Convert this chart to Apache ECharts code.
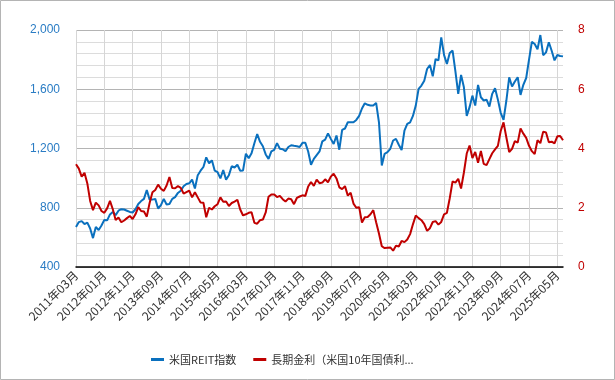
<!DOCTYPE html>
<html>
<head>
<meta charset="utf-8">
<script src="https://cdn.jsdelivr.net/npm/echarts@6.0.0/dist/echarts.min.js"></script>
<style>
html,body{margin:0;padding:0;background:#fff;}
#chart{width:615px;height:380px;}
</style>
</head>
<body>
<div id="chart"></div>
<script>
// Category range: 2011年03月 .. 2025年07月 (monthly)
const startYear = 2011, startMonth = 3, monthCount = 173;
const categories = [];
for (let i = 0; i < monthCount; i++) {
  const m = startMonth - 1 + i;
  const y = startYear + Math.floor(m / 12);
  const mm = (m % 12) + 1;
  categories.push(y + '年' + (mm < 10 ? '0' + mm : '' + mm) + '月');
}

const seriesNames = ['米国REIT指数', '長期金利（米国10年国債利回り）'];

const reitIndex = [
  670,703,710,690,700,660,595,670,650,680,
  718,715,755,772,750,780,790,788,780,772,
  768,790,825,845,860,920,855,855,860,795,
  818,860,822,825,860,872,900,915,945,960,
  965,990,930,1020,1050,1075,1140,1100,1120,1050,
  1040,998,1055,990,1020,1080,1072,1090,1050,1052,
  1165,1135,1168,1235,1298,1245,1215,1160,1130,1180,
  1190,1236,1198,1195,1182,1210,1222,1218,1215,1210,
  1238,1238,1180,1090,1130,1155,1180,1248,1260,1302,
  1265,1230,1288,1192,1326,1335,1377,1377,1377,1393,
  1420,1470,1505,1495,1490,1490,1508,1377,1085,1164,
  1175,1198,1254,1265,1225,1190,1320,1366,1377,1420,
  1490,1602,1625,1658,1737,1764,1687,1804,1795,1950,
  1830,1771,1845,1861,1720,1569,1697,1613,1420,1479,
  1557,1490,1629,1546,1524,1530,1483,1569,1607,1530,
  1441,1393,1524,1681,1618,1652,1681,1562,1630,1676,
  1800,1920,1905,1870,1966,1830,1849,1917,1860,1795,
  1831,1825,1822
];

const yield10y = [
  3.47,3.32,3.05,3.18,2.82,2.23,1.92,2.17,2.08,1.89,
  1.83,1.98,2.23,1.95,1.59,1.67,1.51,1.57,1.65,1.72,1.62,1.78,
  2.02,1.89,1.87,1.70,2.16,2.52,2.60,2.78,2.64,2.57,2.75,3.04,
  2.67,2.66,2.73,2.67,2.48,2.53,2.58,2.35,2.52,2.35,2.18,2.17,
  1.68,2.00,1.94,2.05,2.12,2.35,2.20,2.21,2.06,2.16,2.21,2.27,
  1.94,1.74,1.78,1.83,1.85,1.49,1.46,1.58,1.60,1.84,2.37,2.45,
  2.45,2.36,2.40,2.29,2.21,2.31,2.29,2.12,2.33,2.38,2.42,2.40,
  2.72,2.87,2.74,2.95,2.83,2.85,2.96,2.86,3.05,3.15,2.99,2.69,
  2.63,2.73,2.41,2.51,2.14,2.00,2.02,1.50,1.68,1.69,1.78,1.92,
  1.51,1.13,0.70,0.64,0.65,0.66,0.55,0.72,0.69,0.88,0.84,0.93,
  1.11,1.44,1.74,1.65,1.58,1.45,1.22,1.31,1.52,1.55,1.43,1.52,
  1.78,1.83,2.32,2.89,2.85,2.98,2.65,3.19,3.83,4.10,3.68,3.88,
  3.52,3.92,3.48,3.44,3.64,3.84,3.97,4.09,4.59,4.88,4.37,3.88,
  3.99,4.25,4.20,4.68,4.50,4.36,4.09,3.91,3.81,4.28,4.18,4.57,
  4.54,4.21,4.23,4.17,4.41,4.42,4.28
];

const leftTicks = {min: 400, max: 2000, interval: 400};
const rightTicks = {min: 0, max: 8, interval: 2};

const blue = '#0a70be';
const red = '#c00000';
const font = "'Liberation Sans', 'Noto Sans CJK JP', sans-serif";
const cjkFont = "'Noto Sans CJK JP', sans-serif";

const chart = echarts.init(document.getElementById('chart'));
chart.setOption({
  animation: false,
  textStyle: {fontFamily: font},
  graphic: [{
    type: 'rect', left: 0, top: 0, z: -10,
    shape: {x: 0.5, y: 0.5, width: 614, height: 379},
    style: {fill: '#fff', stroke: '#b4b4b4', lineWidth: 1}
  }],
  grid: {left: 76, right: 52, top: 30, bottom: 113},
  legend: {
    left: 146, top: 349,
    icon: 'rect', itemWidth: 13, itemHeight: 3, itemGap: 17,
    textStyle: {fontSize: 11, color: '#333', fontFamily: cjkFont},
    data: [
      {name: seriesNames[0]},
      {name: seriesNames[1], textStyle: {width: 152, overflow: 'truncate', ellipsis: '...'}}
    ]
  },
  xAxis: {
    type: 'category',
    boundaryGap: false,
    data: categories,
    axisLine: {lineStyle: {color: '#000', width: 1.5}},
    axisTick: {show: false},
    axisLabel: {interval: 9, rotate: 45, fontSize: 12, color: '#333', margin: 6, fontFamily: cjkFont},
    splitLine: {show: true, interval: 9, lineStyle: {color: '#d6d6d6', width: 1}}
  },
  yAxis: [{
    type: 'value',
    position: 'left',
    min: leftTicks.min, max: leftTicks.max, interval: leftTicks.interval,
    axisLine: {show: false},
    axisTick: {show: false},
    axisLabel: {color: '#2a7cc4', fontSize: 12, margin: 16,
      formatter: v => v.toLocaleString('en-US')},
    splitLine: {lineStyle: {color: '#b4b4b4', width: 1}},
    minorTick: {show: false, splitNumber: 5},
    minorSplitLine: {show: true, lineStyle: {color: '#dcdcdc', width: 1}}
  }, {
    type: 'value',
    position: 'right',
    min: rightTicks.min, max: rightTicks.max, interval: rightTicks.interval,
    axisLine: {show: false},
    axisTick: {show: false},
    axisLabel: {color: red, fontSize: 12, margin: 15},
    splitLine: {show: false}
  }],
  series: [{
    name: seriesNames[0],
    type: 'line',
    yAxisIndex: 0,
    data: reitIndex,
    showSymbol: false,
    symbol: 'none',
    itemStyle: {color: blue},
    lineStyle: {color: blue, width: 2}
  }, {
    name: seriesNames[1],
    type: 'line',
    yAxisIndex: 1,
    data: yield10y,
    showSymbol: false,
    symbol: 'none',
    itemStyle: {color: red},
    lineStyle: {color: red, width: 2}
  }]
});
</script>
</body>
</html>
